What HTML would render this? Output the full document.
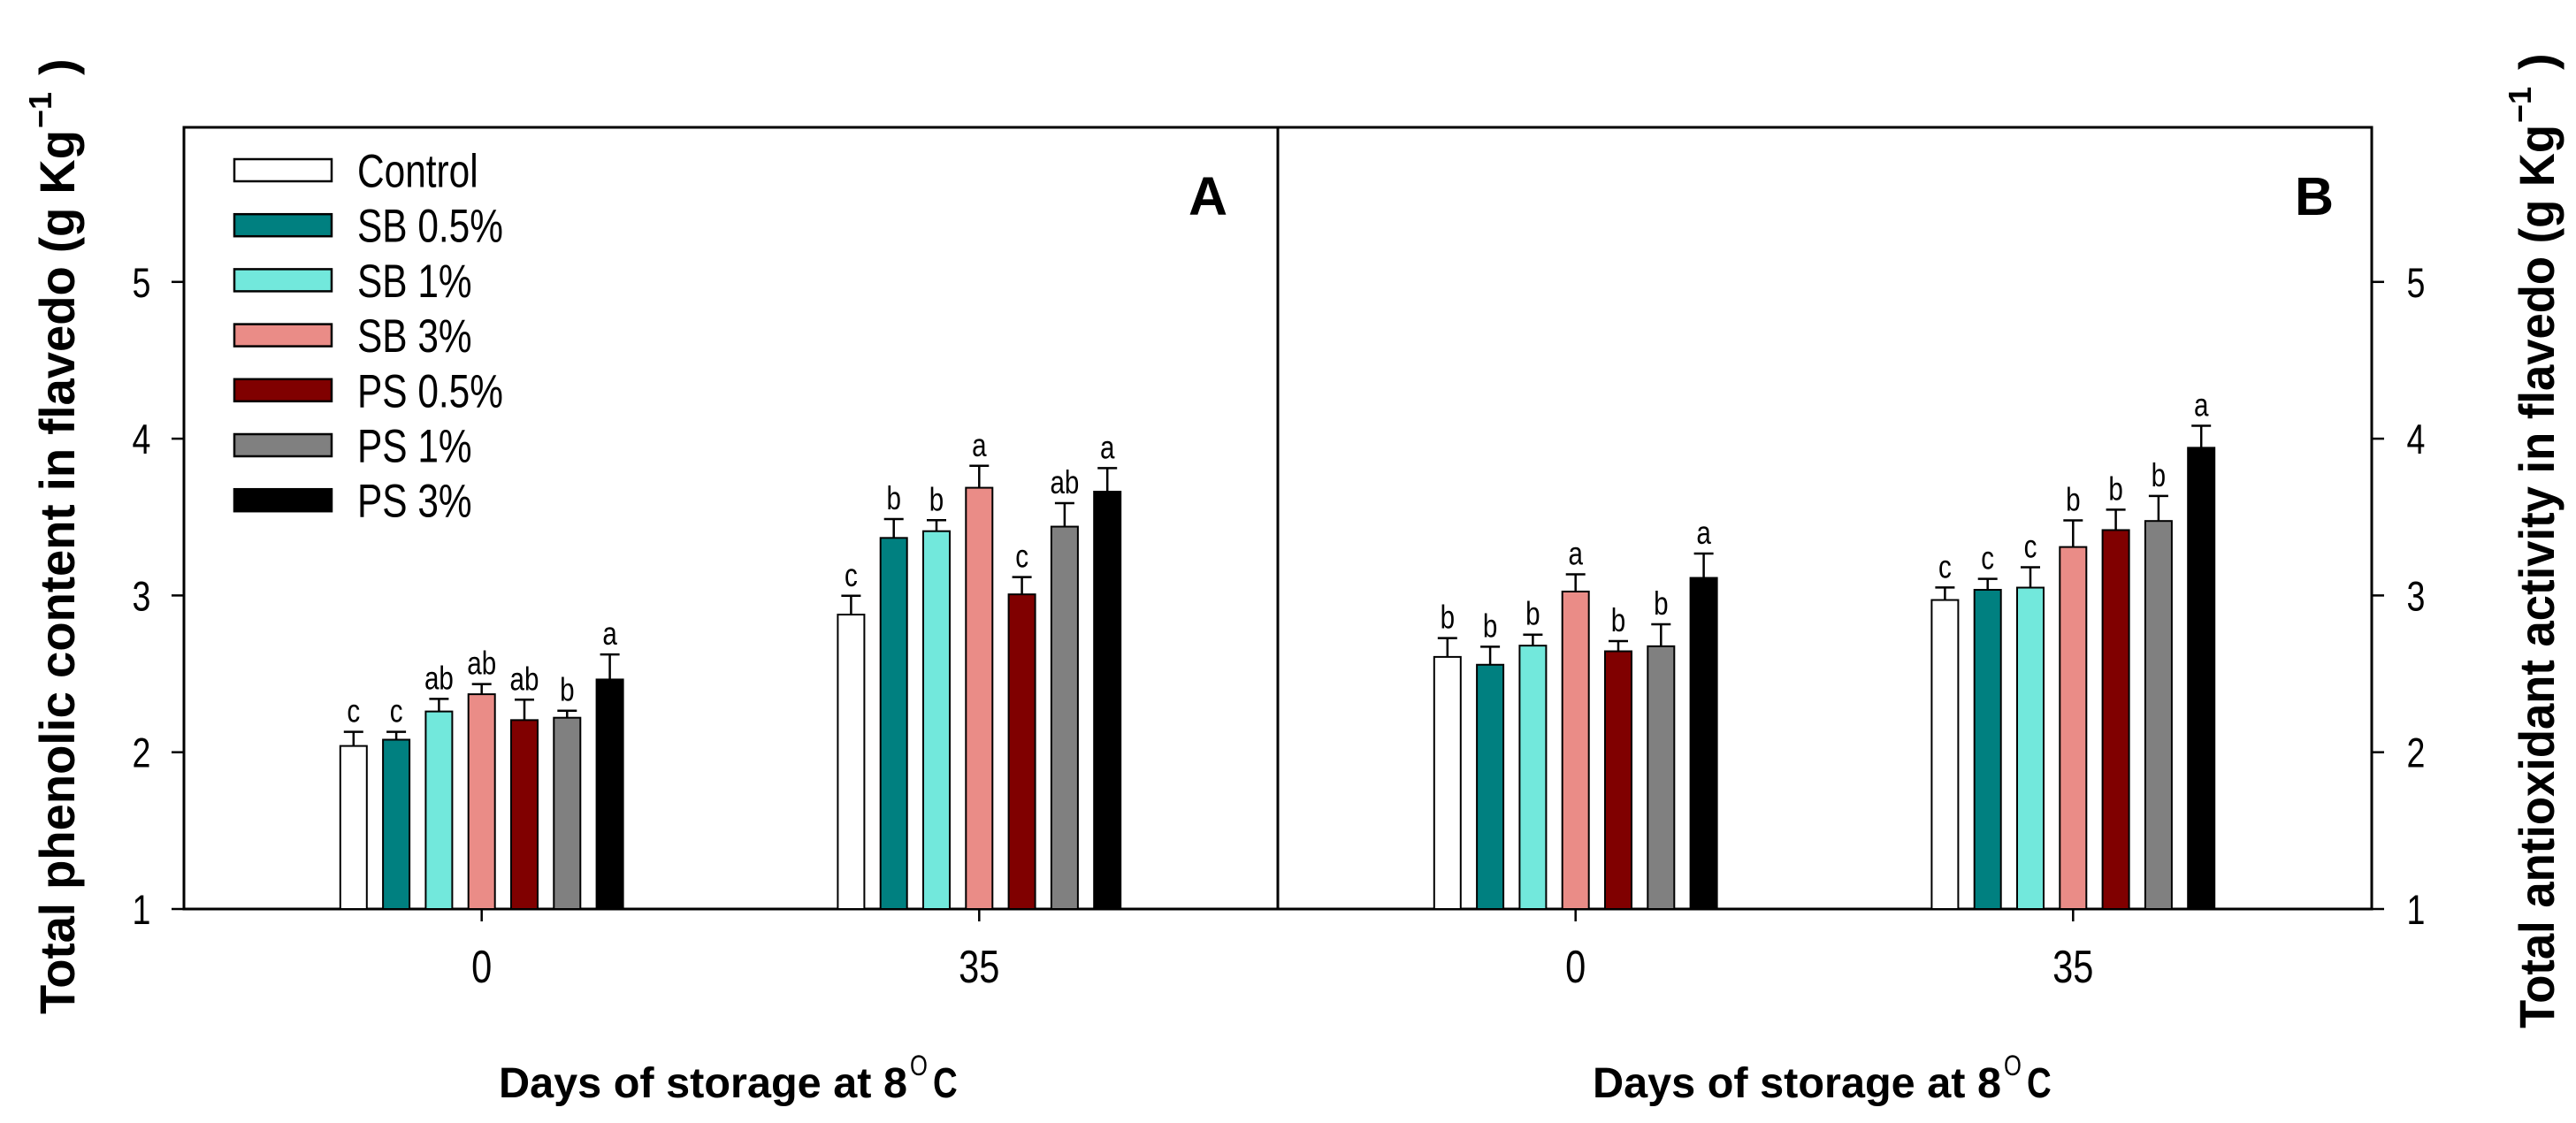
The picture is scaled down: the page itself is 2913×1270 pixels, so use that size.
<!DOCTYPE html>
<html><head><meta charset="utf-8"><style>
html,body{margin:0;padding:0;background:#fff;}
svg{display:block;font-family:"Liberation Sans Narrow","Liberation Sans",sans-serif;}
</style></head><body>
<svg id="chart" width="2913" height="1270" viewBox="0 0 2913 1270" xmlns="http://www.w3.org/2000/svg">
<rect x="0" y="0" width="2913" height="1270" fill="#fff"/>
<g id="frames"></g>
<g id="marks"></g>
<g id="texts"></g>
</svg>
<script>
const categories = ["0", "35"];
const seriesNames = ["Control", "SB 0.5%", "SB 1%", "SB 3%", "PS 0.5%", "PS 1%", "PS 3%"];
const seriesColors = ["#ffffff", "#008080", "#72E8DC", "#EA8C87", "#800000", "#808080", "#000000"];
const yTicks = [1, 2, 3, 4, 5];
// Panel A: total phenolic content
const valuesA = [
  [2.04, 2.08, 2.26, 2.37, 2.205, 2.22, 2.464],
  [2.878, 3.367, 3.41, 3.687, 3.007, 3.439, 3.662]
];
const errorsA = [
  [0.09, 0.05, 0.08, 0.065, 0.13, 0.045, 0.16],
  [0.12, 0.12, 0.07, 0.14, 0.11, 0.15, 0.15]
];
const lettersA = [
  ["c", "c", "ab", "ab", "ab", "b", "a"],
  ["c", "b", "b", "a", "c", "ab", "a"]
];
// Panel B: total antioxidant activity
const valuesB = [
  [2.608, 2.558, 2.68, 3.025, 2.644, 2.676, 3.112],
  [2.971, 3.036, 3.05, 3.309, 3.417, 3.475, 3.942]
];
const errorsB = [
  [0.12, 0.115, 0.07, 0.11, 0.065, 0.14, 0.155],
  [0.08, 0.07, 0.13, 0.17, 0.13, 0.16, 0.14]
];
const lettersB = [
  ["b", "b", "b", "a", "b", "b", "a"],
  ["c", "c", "c", "b", "b", "b", "a"]
];

const NS = "http://www.w3.org/2000/svg";
const frames = document.getElementById('frames');
const marks = document.getElementById('marks');
const texts = document.getElementById('texts');
function mk(tag, attrs, parent) {
  const e = document.createElementNS(NS, tag);
  for (const k in attrs) e.setAttribute(k, attrs[k]);
  parent.appendChild(e);
  return e;
}
function ctext(x, y, size, anchor, parent) {
  return mk('text', {x:0, y:0, 'font-size':size, 'text-anchor':anchor, transform:'translate(' + x + ',' + y + ') scale(0.8,1)'}, parent);
}
const Y0 = 1028, UNIT = 177.3, YMIN = 1;
function yScale(v) { return Y0 - (v - YMIN) * UNIT; }
const PITCH = 48.3, BW = 30;
function xScale(panelLeft, ci, si) {
  const center = panelLeft + (ci === 0 ? 336.7 : 899.3);
  return center + (si - 3) * PITCH;
}

let fr = mk('rect', {x:208, y:144, width:2474, height:884, fill:'none', stroke:'#000', 'stroke-width':3}, frames);


let dv = mk('line', {x1:1445, y1:144, x2:1445, y2:1028, stroke:'#000', 'stroke-width':3}, frames);



yTicks.forEach(t => {
  const y = yScale(t);
  let l = mk('line', {x1:194, y1:y, x2:208, y2:y, stroke:'#000', 'stroke-width':2.5}, frames);
  
  
  let tx = ctext(160, y + 17, 47, 'middle', texts);
  tx.textContent = t;
  
  
  let r = mk('line', {x1:2682, y1:y, x2:2696, y2:y, stroke:'#000', 'stroke-width':2.5}, frames);
  
  
  let tr = ctext(2732, y + 17, 47, 'middle', texts);
  tr.textContent = t;
  
  
});

function drawPanel(panelLeft, vals, errs, lets, tag) {
  categories.forEach((c, ci) => {
    const cx = panelLeft + (ci === 0 ? 336.7 : 899.3);
    let tk = mk('line', {x1:cx, y1:1028, x2:cx, y2:1042, stroke:'#000', 'stroke-width':2.5}, frames);
    
    
    let tl = ctext(cx, 1111, 52, 'middle', texts);
    tl.textContent = c;
    
    
    seriesNames.forEach((s, si) => {
      const xc = xScale(panelLeft, ci, si);
      const v = vals[ci][si], e = errs[ci][si];
      const yt = yScale(v), ye = yScale(v + e);
      let b = mk('rect', {x:xc - BW/2, y:yt, width:BW, height:Y0 - yt, fill:seriesColors[si], stroke:'#000', 'stroke-width':2}, marks);
      
      
      let el = mk('path', {d:'M' + xc + ' ' + yt + 'V' + ye + 'M' + (xc - 11) + ' ' + ye + 'H' + (xc + 11), stroke:'#000', 'stroke-width':2.5, fill:'none'}, marks);
      
      
      let lt = ctext(xc, ye - 11, 37, 'middle', texts);
      lt.textContent = lets[ci][si];
      
      
    });
  });
}
drawPanel(208, valuesA, errorsA, lettersA, 'a');
drawPanel(1445, valuesB, errorsB, lettersB, 'b');

seriesNames.forEach((s, si) => {
  const cy = 192.5 + si * 62.2;
  let g = mk('g', {}, texts);
  
  
  let r = mk('rect', {x:265, y:cy - 12.5, width:110, height:25, fill:seriesColors[si], stroke:'#000', 'stroke-width':2.5}, g);
  
  
  let t = ctext(404, cy + 19, 53, 'start', g);
  t.textContent = s;
  
  
});
</script>
<svg style="position:absolute;left:0;top:0" width="2913" height="1270" viewBox="0 0 2913 1270" xmlns="http://www.w3.org/2000/svg" font-family="Liberation Sans Narrow, Liberation Sans, sans-serif">
<text x="1366" y="243" font-size="61" font-weight="bold" text-anchor="middle">A</text>
<text x="2617" y="243" font-size="61" font-weight="bold" text-anchor="middle">B</text>
<text x="564" y="1241" font-size="48" font-weight="bold" textLength="462" lengthAdjust="spacingAndGlyphs">Days of storage at 8</text>
<text x="1029" y="1216" font-size="32" transform="translate(1029,1216) scale(0.8,1) translate(-1029,-1216)">O</text>
<text x="1055" y="1241" font-size="48" font-weight="bold" transform="translate(1055,1241) scale(0.8,1) translate(-1055,-1241)">C</text>
<text x="1801" y="1241" font-size="48" font-weight="bold" textLength="462" lengthAdjust="spacingAndGlyphs">Days of storage at 8</text>
<text x="2266" y="1216" font-size="32" transform="translate(2266,1216) scale(0.8,1) translate(-2266,-1216)">O</text>
<text x="2292" y="1241" font-size="48" font-weight="bold" transform="translate(2292,1241) scale(0.8,1) translate(-2292,-1241)">C</text>
<g transform="translate(84,1147) rotate(-90)">
<text x="0" y="0" font-size="56" font-weight="bold" textLength="1000" lengthAdjust="spacingAndGlyphs">Total phenolic content in flavedo (g Kg</text>
<text x="1002" y="-26" font-size="36" font-weight="bold">−1</text>
<text x="1062" y="0" font-size="56" font-weight="bold">)</text>
</g>
<g transform="translate(2888,1163) rotate(-90)">
<text x="0" y="0" font-size="56" font-weight="bold" textLength="1022" lengthAdjust="spacingAndGlyphs">Total antioxidant activity in flavedo (g Kg</text>
<text x="1024" y="-26" font-size="36" font-weight="bold">−1</text>
<text x="1084" y="0" font-size="56" font-weight="bold">)</text>
</g>
</svg>
</body></html>
